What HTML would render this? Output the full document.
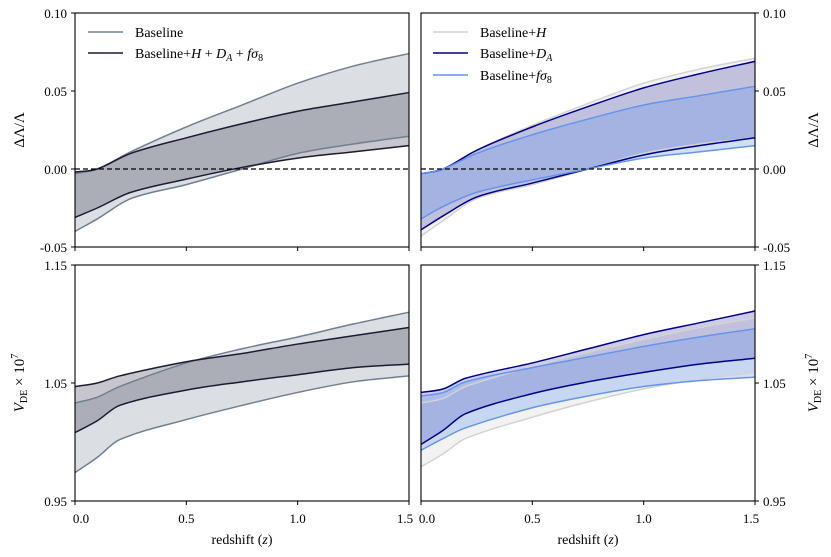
<!DOCTYPE html>
<html><head><meta charset="utf-8">
<style>
html,body{margin:0;padding:0;background:#fff;}
svg{display:block;font-family:"Liberation Serif","DejaVu Serif",serif;}
</style></head>
<body>
<svg id="chart" width="831" height="557" viewBox="0 0 831 557"></svg>
<script>
// ---- data ----
const zTop = [0, 0.1, 0.25, 0.5, 0.75, 1.0, 1.25, 1.5];
const zBot = [0, 0.1, 0.2, 0.5, 0.75, 1.0, 1.25, 1.5];
// top-left: delta Lambda / Lambda
const tlBaseUp = [-0.003, 0.000, 0.011, 0.027, 0.041, 0.055, 0.066, 0.074];
const tlBaseLo = [-0.040, -0.032, -0.019, -0.010, 0.000, 0.010, 0.016, 0.021];
const tlCombUp = [-0.002, 0.000, 0.010, 0.020, 0.029, 0.037, 0.043, 0.049];
const tlCombLo = [-0.031, -0.025, -0.015, -0.0065, 0.001, 0.007, 0.011, 0.015];
// top-right
const trHUp = [-0.003, 0.000, 0.012, 0.028, 0.042, 0.055, 0.064, 0.071];
const trHLo = [-0.043, -0.033, -0.019, -0.010, 0.000, 0.010, 0.016, 0.020];
const trDAUp = [-0.003, 0.000, 0.012, 0.027, 0.040, 0.052, 0.061, 0.069];
const trDALo = [-0.039, -0.030, -0.018, -0.009, 0.000, 0.009, 0.015, 0.020];
const trFUp = [-0.003, 0.000, 0.010, 0.022, 0.032, 0.041, 0.047, 0.053];
const trFLo = [-0.032, -0.024, -0.015, -0.007, 0.000, 0.007, 0.011, 0.015];
// bottom-left: V_DE x 1e7
const blBaseUp = [1.033, 1.038, 1.047, 1.067, 1.079, 1.089, 1.100, 1.110];
const blBaseLo = [0.974, 0.987, 1.002, 1.019, 1.031, 1.042, 1.051, 1.056];
const blCombUp = [1.047, 1.050, 1.056, 1.068, 1.075, 1.083, 1.090, 1.097];
const blCombLo = [1.008, 1.018, 1.031, 1.044, 1.051, 1.057, 1.063, 1.066];
// bottom-right
const brHUp = [1.033, 1.037, 1.047, 1.064, 1.076, 1.087, 1.097, 1.105];
const brHLo = [0.979, 0.990, 1.003, 1.021, 1.034, 1.045, 1.053, 1.059];
const brDAUp = [1.042, 1.045, 1.054, 1.067, 1.079, 1.091, 1.101, 1.111];
const brDALo = [0.998, 1.010, 1.024, 1.041, 1.051, 1.059, 1.066, 1.071];
const brFUp = [1.039, 1.042, 1.051, 1.063, 1.072, 1.081, 1.089, 1.096];
const brFLo = [0.993, 1.003, 1.012, 1.029, 1.039, 1.047, 1.052, 1.055];
const xTicks = [0, 0.5, 1.0, 1.5];
const xTickLabels = ["0.0", "0.5", "1.0", "1.5"];
const yTopTicks = [-0.05, 0, 0.05, 0.10];
const yTopLabels = ["-0.05", "0.00", "0.05", "0.10"];
const yBotTicks = [0.95, 1.05, 1.15];
const yBotLabels = ["0.95", "1.05", "1.15"];

const NS = "http://www.w3.org/2000/svg";
const svg = document.getElementById("chart");
function mk(tag, attrs, parent){ const e=document.createElementNS(NS,tag); for(const k in attrs) e.setAttribute(k,attrs[k]); (parent||svg).appendChild(e); return e; }

const panels = {
  tl:{x0:75,x1:409,y0:13,y1:247,ymin:-0.05,ymax:0.10},
  tr:{x0:421,x1:755,y0:13,y1:247,ymin:-0.05,ymax:0.10},
  bl:{x0:75,x1:409,y0:265,y1:501,ymin:0.95,ymax:1.15},
  br:{x0:421,x1:755,y0:265,y1:501,ymin:0.95,ymax:1.15}
};
function xs(p,v){return p.x0+(v-0)/(1.5-0)*(p.x1-p.x0);}
function ys(p,v){return p.y1-(v-p.ymin)/(p.ymax-p.ymin)*(p.y1-p.y0);}

function pts(p,zs,vals){return zs.map((z,i)=>[xs(p,z),ys(p,vals[i])]);}
function slope(P,i){
  const a=P[Math.max(i-1,0)], b=P[Math.min(i+1,P.length-1)];
  return (b[1]-a[1])/(b[0]-a[0]);
}
function smooth(P,cont){
  let d=(cont?" L":"M")+P[0][0].toFixed(2)+","+P[0][1].toFixed(2);
  for(let i=0;i<P.length-1;i++){
    const p1=P[i],p2=P[i+1];
    const dx=(p2[0]-p1[0])/3;
    const m1=slope(P,i), m2=slope(P,i+1);
    const c1=[p1[0]+dx,p1[1]+m1*dx];
    const c2=[p2[0]-dx,p2[1]-m2*dx];
    d+=" C"+c1[0].toFixed(2)+","+c1[1].toFixed(2)+" "+c2[0].toFixed(2)+","+c2[1].toFixed(2)+" "+p2[0].toFixed(2)+","+p2[1].toFixed(2);
  }
  return d;
}
function band(p,zs,up,lo,color,op,name){
  const U=pts(p,zs,up), L=pts(p,zs,lo).reverse();
  const d=smooth(U)+smooth(L,true)+" Z";
  const e=mk("path",{d:d,fill:color,"fill-opacity":op,stroke:"none"});
  
  
}
function line(p,zs,vals,color,w,name){
  const e=mk("path",{d:smooth(pts(p,zs,vals)),fill:"none",stroke:color,"stroke-width":w});
  
  
}
function frame(p,name,rightTicks,showXLabels,yt,yl){
  const g=mk("g",{});
  
  
  mk("rect",{x:p.x0,y:p.y0,width:p.x1-p.x0,height:p.y1-p.y0,fill:"none",stroke:"#000","stroke-width":1.1},g);
  xTicks.forEach((t,i)=>{
    const x=xs(p,t);
    mk("line",{x1:x,x2:x,y1:p.y1,y2:p.y1+4,stroke:"#000","stroke-width":1},g);
    if(showXLabels){
      const tx=mk("text",{x:x+(i==0?6:(i==3?-4:0)),y:p.y1+22,"text-anchor":"middle","font-size":13},g);
      tx.textContent=xTickLabels[i];
      
      
    }
  });
  yt.forEach((t,i)=>{
    const y=ys(p,t);
    if(rightTicks){
      mk("line",{x1:p.x1,x2:p.x1+4,y1:y,y2:y,stroke:"#000","stroke-width":1},g);
      const tx=mk("text",{x:p.x1+8,y:y+5,"text-anchor":"start","font-size":13},g);
      tx.textContent=yl[i];
      
      
    } else {
      mk("line",{x1:p.x0-4,x2:p.x0,y1:y,y2:y,stroke:"#000","stroke-width":1},g);
      const tx=mk("text",{x:p.x0-8,y:y+5,"text-anchor":"end","font-size":13},g);
      tx.textContent=yl[i];
      
      
    }
  });
}

// top-left
let p=panels.tl;
band(p,zTop,tlBaseUp,tlBaseLo,"#708090",0.25,"baseline");
band(p,zTop,tlCombUp,tlCombLo,"#1f1a33",0.25,"combined");
line(p,zTop,tlBaseUp,"#708090",1.5,"baseline-upper-line");
line(p,zTop,tlBaseLo,"#708090",1.5,"baseline-lower-line");
line(p,zTop,tlCombUp,"#1f1a33",1.5,"combined-upper-line");
line(p,zTop,tlCombLo,"#1f1a33",1.5,"combined-lower-line");
// top-right
p=panels.tr;
band(p,zTop,trHUp,trHLo,"#d3d3d3",0.3,"baseline-h");
band(p,zTop,trDAUp,trDALo,"#00008b",0.2,"baseline-da");
band(p,zTop,trFUp,trFLo,"#6495ed",0.3,"baseline-fs8");
line(p,zTop,trHUp,"#d3d3d3",1.5,"baseline-h-upper-line");
line(p,zTop,trHLo,"#d3d3d3",1.5,"baseline-h-lower-line");
line(p,zTop,trDAUp,"#00008b",1.5,"baseline-da-upper-line");
line(p,zTop,trDALo,"#00008b",1.5,"baseline-da-lower-line");
line(p,zTop,trFUp,"#6495ed",1.5,"baseline-fs8-upper-line");
line(p,zTop,trFLo,"#6495ed",1.5,"baseline-fs8-lower-line");
// bottom-left
p=panels.bl;
band(p,zBot,blBaseUp,blBaseLo,"#708090",0.25,"baseline-vde");
band(p,zBot,blCombUp,blCombLo,"#1f1a33",0.25,"combined-vde");
line(p,zBot,blBaseUp,"#708090",1.5,"baseline-vde-upper-line");
line(p,zBot,blBaseLo,"#708090",1.5,"baseline-vde-lower-line");
line(p,zBot,blCombUp,"#1f1a33",1.5,"combined-vde-upper-line");
line(p,zBot,blCombLo,"#1f1a33",1.5,"combined-vde-lower-line");
// bottom-right
p=panels.br;
band(p,zBot,brHUp,brHLo,"#d3d3d3",0.3,"baseline-h-vde");
band(p,zBot,brDAUp,brDALo,"#00008b",0.2,"baseline-da-vde");
band(p,zBot,brFUp,brFLo,"#6495ed",0.3,"baseline-fs8-vde");
line(p,zBot,brHUp,"#d3d3d3",1.5,"baseline-h-vde-upper-line");
line(p,zBot,brHLo,"#d3d3d3",1.5,"baseline-h-vde-lower-line");
line(p,zBot,brDAUp,"#00008b",1.5,"baseline-da-vde-upper-line");
line(p,zBot,brDALo,"#00008b",1.5,"baseline-da-vde-lower-line");
line(p,zBot,brFUp,"#6495ed",1.5,"baseline-fs8-vde-upper-line");
line(p,zBot,brFLo,"#6495ed",1.5,"baseline-fs8-vde-lower-line");

// zero dashed lines
["tl","tr"].forEach(k=>{
  const q=panels[k];
  const e=mk("line",{x1:q.x0,x2:q.x1,y1:ys(q,0),y2:ys(q,0),stroke:"#000","stroke-width":1.3,"stroke-dasharray":"5,3"});
  
  
});

frame(panels.tl,"top-left",false,false,yTopTicks,yTopLabels);
frame(panels.tr,"top-right",true,false,yTopTicks,yTopLabels);
frame(panels.bl,"bottom-left",false,true,yBotTicks,yBotLabels);
frame(panels.br,"bottom-right",true,true,yBotTicks,yBotLabels);
</script>
<svg width="831" height="557" style="position:absolute;left:0;top:0;font-family:'Liberation Serif','DejaVu Serif',serif;">
  <g font-size="14">
    <line x1="88" y1="32" x2="123" y2="32" stroke="#708090" stroke-width="1.5"/>
    <text x="135" y="37">Baseline</text>
    <line x1="88" y1="53" x2="123" y2="53" stroke="#1f1a33" stroke-width="1.5"/>
    <text x="135" y="58">Baseline+<tspan font-style="italic">H</tspan> + <tspan font-style="italic">D</tspan><tspan font-size="10" dy="3" font-style="italic">A</tspan><tspan dy="-3"> + </tspan><tspan font-style="italic">fσ</tspan><tspan font-size="10" dy="3">8</tspan></text>
  </g>
  <g font-size="14">
    <line x1="433" y1="32" x2="468" y2="32" stroke="#d3d3d3" stroke-width="1.5"/>
    <text x="480" y="37">Baseline+<tspan font-style="italic">H</tspan></text>
    <line x1="433" y1="53" x2="468" y2="53" stroke="#00008b" stroke-width="1.5"/>
    <text x="480" y="58">Baseline+<tspan font-style="italic">D</tspan><tspan font-size="10" dy="3" font-style="italic">A</tspan></text>
    <line x1="433" y1="75" x2="468" y2="75" stroke="#6495ed" stroke-width="1.5"/>
    <text x="480" y="80">Baseline+<tspan font-style="italic">fσ</tspan><tspan font-size="10" dy="3">8</tspan></text>
  </g>
  <text transform="translate(24,130) rotate(-90)" text-anchor="middle" font-size="15">ΔΛ/Λ</text>
  <text transform="translate(818,130) rotate(-90)" text-anchor="middle" font-size="15">ΔΛ/Λ</text>
  <text transform="translate(24,383) rotate(-90)" text-anchor="middle" font-size="15"><tspan font-style="italic">V</tspan><tspan font-size="10" dy="3">DE</tspan><tspan dy="-3"> × 10</tspan><tspan font-size="10" dy="-6">7</tspan></text>
  <text transform="translate(818,383) rotate(-90)" text-anchor="middle" font-size="15"><tspan font-style="italic">V</tspan><tspan font-size="10" dy="3">DE</tspan><tspan dy="-3"> × 10</tspan><tspan font-size="10" dy="-6">7</tspan></text>
  <text x="242" y="544" text-anchor="middle" font-size="14">redshift (<tspan font-style="italic">z</tspan>)</text>
  <text x="588" y="544" text-anchor="middle" font-size="14">redshift (<tspan font-style="italic">z</tspan>)</text>
</svg>
</body></html>
